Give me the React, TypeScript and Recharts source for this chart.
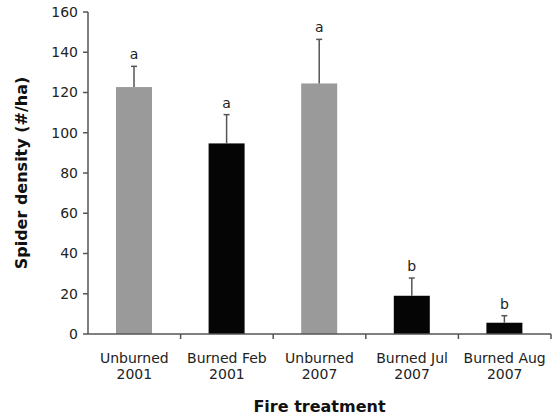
import React from "react";
import { BarChart, Bar, XAxis, YAxis, Cell, Label } from "recharts";

const labelLine1 = ["Unburned", "Burned Feb", "Unburned", "Burned Jul", "Burned Aug"];
const labelLine2 = ["2001", "2001", "2007", "2007", "2007"];
const densities = [122.7, 94.7, 124.5, 19.0, 5.6];
const errors = [10.3, 14.3, 21.9, 8.8, 3.5];
const letters = ["a", "a", "a", "b", "b"];
const burned = [false, true, false, true, true];
const yTicks = [0, 20, 40, 60, 80, 100, 120, 140, 160];

const data = labelLine1.map((l, i) => ({
  name: l + " " + labelLine2[i],
  value: densities[i],
  err: errors[i],
  letter: letters[i],
  burned: burned[i],
  idx: i,
}));

const FONT = "'DejaVu Sans', Verdana, sans-serif";

const BarWithError = (props: any) => {
  const { x, y, width, height, payload, fill } = props;
  const pxPerUnit = height / payload.value;
  const topY = y - payload.err * pxPerUnit;
  const cx = x + width / 2;
  return (
    <g>
      <rect x={x} y={y} width={width} height={height} fill={fill} />
      <line x1={cx} x2={cx} y1={y} y2={topY} stroke="#555" strokeWidth={1.5} />
      <line x1={cx - 3} x2={cx + 3} y1={topY} y2={topY} stroke="#555" strokeWidth={1.5} />
      <text x={cx} y={topY - 7} textAnchor="middle" fontSize={14} fontFamily={FONT} fill="#222">
        {payload.letter}
      </text>
    </g>
  );
};

const CatTick = (props: any) => {
  const { x, y, payload } = props;
  const i = payload.index ?? 0;
  const off = payload.offset ?? 46.3;
  return (
    <g>
      <line x1={x + off} x2={x + off} y1={y} y2={y + 5} stroke="#555" strokeWidth={1.5} />
      <text x={x} y={y + 29} textAnchor="middle" fontSize={14} fontFamily={FONT} fill="#222">
        {labelLine1[i]}
      </text>
      <text x={x} y={y + 45} textAnchor="middle" fontSize={14} fontFamily={FONT} fill="#222">
        {labelLine2[i]}
      </text>
    </g>
  );
};

export default function App() {
  return (
    <div style={{ position: "absolute", left: 0, top: 0, width: 558, height: 420, background: "#fff" }}>
      <BarChart
        width={558}
        height={420}
        data={data}
        margin={{ top: 12, right: 7, bottom: 0, left: 0 }}
        barSize={36}
      >
        <XAxis
          dataKey="name"
          height={86}
          tickLine={false}
          tickSize={0}
          tickMargin={0}
          axisLine={{ stroke: "#555", strokeWidth: 1.5 }}
          tick={<CatTick />}
          interval={0}
        >
          <Label
            content={(p: any) => {
              const vb = p.viewBox;
              return (
                <text
                  x={vb.x + vb.width / 2}
                  y={vb.y + 78}
                  textAnchor="middle"
                  fontSize={16}
                  fontWeight="bold"
                  fontFamily={FONT}
                  fill="#111"
                >
                  Fire treatment
                </text>
              );
            }}
          />
        </XAxis>
        <YAxis
          width={88}
          domain={[0, 160]}
          ticks={yTicks}
          interval={0}
          tickSize={5}
          tickMargin={5}
          axisLine={{ stroke: "#555", strokeWidth: 1.5 }}
          tickLine={{ stroke: "#555", strokeWidth: 1.5 }}
          tick={{ fontSize: 14, fontFamily: FONT, fill: "#222" }}
        >
          <Label
            content={(p: any) => {
              const vb = p.viewBox;
              const cx = vb.x + 21;
              const cy = vb.y + vb.height / 2;
              return (
                <text
                  x={cx}
                  y={cy}
                  transform={`rotate(-90 ${cx} ${cy})`}
                  textAnchor="middle"
                  dominantBaseline="central"
                  fontSize={16}
                  fontWeight="bold"
                  fontFamily={FONT}
                  fill="#111"
                >
                  Spider density (#/ha)
                </text>
              );
            }}
          />
        </YAxis>
        <Bar dataKey="value" shape={<BarWithError />} isAnimationActive={false}>
          {data.map((d) => (
            <Cell key={d.idx} fill={d.burned ? "#050505" : "#9a9a9a"} />
          ))}
        </Bar>
      </BarChart>
    </div>
  );
}
